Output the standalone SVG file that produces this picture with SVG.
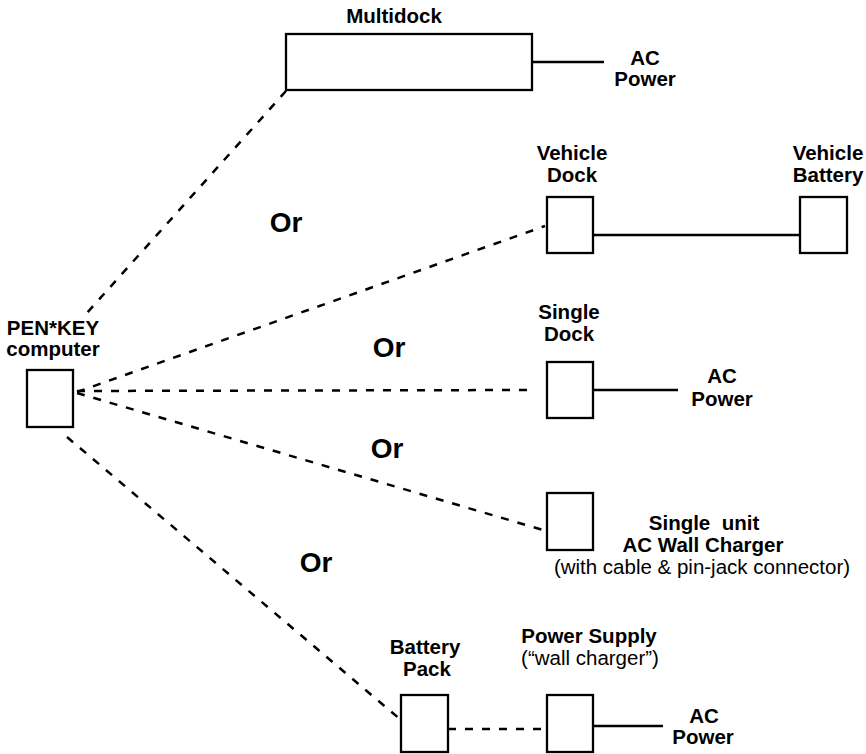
<svg xmlns="http://www.w3.org/2000/svg" width="866" height="754" viewBox="0 0 866 754">
<style>
.box{fill:#fff;stroke:#000;stroke-width:2.3}
.w{stroke:#000;stroke-width:2.3;fill:none}
.d{stroke:#000;stroke-width:2.5;fill:none;stroke-dasharray:8 9}
text{font-family:"Liberation Sans",Arial,sans-serif;font-size:20.5px;fill:#000;text-anchor:middle}
.b{font-weight:bold}
.or{font-weight:bold;font-size:28px}
</style>
<rect width="866" height="754" fill="#fff"/>
<g id="connectors">
<line class="d" x1="286" y1="91" x2="86" y2="314"/>
<line class="d" x1="77" y1="392" x2="545" y2="226"/>
<line class="d" x1="77" y1="391" x2="530" y2="390"/>
<line class="d" x1="77" y1="393" x2="543" y2="530"/>
<line class="d" x1="67" y1="437" x2="401" y2="720"/>
<line class="d" x1="448" y1="729" x2="547" y2="729"/>
<line class="w" x1="532" y1="62" x2="604" y2="62"/>
<line class="w" x1="593" y1="235" x2="800" y2="235"/>
<line class="w" x1="593" y1="390" x2="678" y2="390"/>
<line class="w" x1="593" y1="726" x2="663" y2="726"/>
</g>
<g id="multidock">
<rect class="box" x="286" y="34" width="246" height="56"/>
<text class="b" x="394" y="23">Multidock</text>
</g>
<g id="ac-power-1">
<text class="b" x="645" y="65">AC</text>
<text class="b" x="645" y="86">Power</text>
</g>
<g id="vehicle-dock">
<rect class="box" x="547" y="197" width="46" height="56"/>
<text class="b" x="572" y="160">Vehicle</text>
<text class="b" x="572" y="182">Dock</text>
</g>
<g id="vehicle-battery">
<rect class="box" x="800" y="197" width="47" height="56"/>
<text class="b" x="828" y="160">Vehicle</text>
<text class="b" x="828" y="182">Battery</text>
</g>
<g id="penkey">
<rect class="box" x="27" y="370" width="46" height="57"/>
<text class="b" x="53" y="335">PEN*KEY</text>
<text class="b" x="53" y="356">computer</text>
</g>
<g id="single-dock">
<rect class="box" x="547" y="362" width="46" height="56"/>
<text class="b" x="569" y="319">Single</text>
<text class="b" x="569" y="341">Dock</text>
</g>
<g id="ac-power-2">
<text class="b" x="722" y="383">AC</text>
<text class="b" x="722" y="406">Power</text>
</g>
<g id="wall-charger">
<rect class="box" x="547" y="493" width="46" height="57"/>
<text class="b" x="704" y="530" style="white-space:pre">Single  unit</text>
<text class="b" x="703" y="552">AC Wall Charger</text>
<text x="702" y="574">(with cable &amp; pin-jack connector)</text>
</g>
<g id="battery-pack">
<rect class="box" x="401" y="695" width="47" height="57"/>
<text class="b" x="425" y="654">Battery</text>
<text class="b" x="427" y="676">Pack</text>
</g>
<g id="power-supply">
<rect class="box" x="547" y="695" width="46" height="57"/>
<text class="b" x="589" y="643">Power Supply</text>
<text x="590" y="665">(“wall charger”)</text>
</g>
<g id="ac-power-3">
<text class="b" x="704" y="723">AC</text>
<text class="b" x="703" y="744">Power</text>
</g>
<g id="or-labels">
<text class="or" x="286" y="232">Or</text>
<text class="or" x="389" y="357">Or</text>
<text class="or" x="387" y="458">Or</text>
<text class="or" x="316" y="572">Or</text>
</g>
</svg>
